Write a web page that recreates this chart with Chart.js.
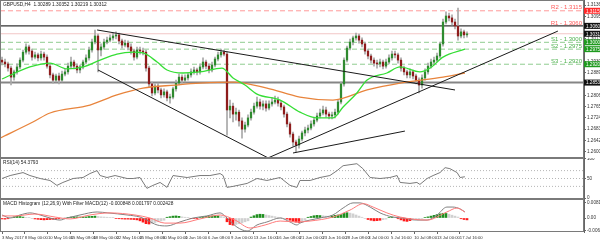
<!DOCTYPE html>
<html>
<head>
<meta charset="utf-8">
<script src="https://cdn.jsdelivr.net/npm/chart.js@4.4.0/dist/chart.umd.min.js"></script>
<style>
  html, body { margin: 0; padding: 0; background: #fff; }
  #wrap { position: relative; width: 600px; height: 241px; overflow: hidden; }
  canvas { position: absolute; left: 0; }
</style>
</head>
<body>
<div id="wrap">
  <canvas id="mainChart" width="600" height="158" style="top:0px"></canvas>
  <canvas id="rsiChart" width="600" height="41" style="top:158px"></canvas>
  <canvas id="macdChart" width="600" height="42" style="top:199px"></canvas>
</div>
<script>
// GBPUSD H4, one candle per index (about two H4 bars each)
const firstOpen = 1.2935;
const closes = [
  1.2928, 1.2921, 1.2906, 1.2873, 1.2892, 1.2910, 1.2935, 1.2964, 1.2983, 1.2968,
  1.2946, 1.2954, 1.2943, 1.2957, 1.2946, 1.2913, 1.2881, 1.2862, 1.2877, 1.2862,
  1.2884, 1.2892, 1.2913, 1.2928, 1.2913, 1.2899, 1.2910, 1.2928, 1.2943, 1.2972,
  1.3001, 1.3023, 1.2972, 1.2983, 1.3001, 1.3008, 1.3016, 1.3023, 1.3027, 1.3005,
  1.2990, 1.2997, 1.2983, 1.2968, 1.2946, 1.2972, 1.2968, 1.2964, 1.2906, 1.2848,
  1.2815, 1.2840, 1.2826, 1.2808, 1.2819, 1.2797, 1.2800, 1.2830, 1.2851, 1.2873,
  1.2862, 1.2870, 1.2881, 1.2892, 1.2899, 1.2892, 1.2910, 1.2928, 1.2913, 1.2899,
  1.2917, 1.2939, 1.2954, 1.2964, 1.2957, 1.2753, 1.2767, 1.2738, 1.2745, 1.2713,
  1.2683, 1.2698, 1.2724, 1.2745, 1.2767, 1.2782, 1.2767, 1.2775, 1.2760, 1.2775,
  1.2782, 1.2789, 1.2778, 1.2764, 1.2738, 1.2702, 1.2665, 1.2636, 1.2625, 1.2647,
  1.2669, 1.2680, 1.2687, 1.2702, 1.2716, 1.2731, 1.2742, 1.2753, 1.2738, 1.2731,
  1.2735, 1.2745, 1.2782, 1.2848, 1.2935, 1.2979, 1.3001, 1.3016, 1.3023, 1.3008,
  1.2994, 1.2968, 1.2950, 1.2935, 1.2924, 1.2921, 1.2928, 1.2913, 1.2928, 1.2943,
  1.2957, 1.2954, 1.2935, 1.2906, 1.2892, 1.2881, 1.2892, 1.2877, 1.2862, 1.2844,
  1.2870, 1.2892, 1.2913, 1.2928, 1.2935, 1.2950, 1.2994, 1.3074, 1.3096, 1.3089,
  1.3074, 1.3059, 1.3023, 1.3038, 1.3027, 1.3031
];
const highs = [
  1.2946, 1.2939, 1.2928, 1.2913, 1.2899, 1.2921, 1.2943, 1.2972, 1.2994, 1.2990,
  1.2975, 1.2964, 1.2961, 1.2968, 1.2964, 1.2954, 1.2921, 1.2888, 1.2884, 1.2888,
  1.2895, 1.2903, 1.2924, 1.2946, 1.2935, 1.2921, 1.2917, 1.2935, 1.2954, 1.2983,
  1.3012, 1.3045, 1.3030, 1.2994, 1.3012, 1.3019, 1.3027, 1.3034, 1.3038, 1.3034,
  1.3012, 1.3008, 1.3005, 1.2994, 1.2975, 1.2983, 1.2983, 1.2979, 1.2972, 1.2913,
  1.2855, 1.2848, 1.2851, 1.2833, 1.2830, 1.2826, 1.2811, 1.2837, 1.2862, 1.2884,
  1.2881, 1.2881, 1.2888, 1.2903, 1.2910, 1.2906, 1.2921, 1.2943, 1.2935, 1.2921,
  1.2928, 1.2946, 1.2964, 1.2975, 1.2972, 1.2964, 1.2789, 1.2778, 1.2760, 1.2753,
  1.2724, 1.2709, 1.2735, 1.2756, 1.2778, 1.2800, 1.2793, 1.2786, 1.2786, 1.2786,
  1.2797, 1.2804, 1.2800, 1.2786, 1.2771, 1.2745, 1.2709, 1.2672, 1.2643, 1.2658,
  1.2676, 1.2691, 1.2698, 1.2713, 1.2727, 1.2742, 1.2756, 1.2767, 1.2764, 1.2745,
  1.2745, 1.2756, 1.2789, 1.2855, 1.2943, 1.2986, 1.3012, 1.3023, 1.3034, 1.3030,
  1.3016, 1.3001, 1.2975, 1.2957, 1.2943, 1.2935, 1.2939, 1.2935, 1.2939, 1.2954,
  1.2968, 1.2968, 1.2961, 1.2943, 1.2913, 1.2899, 1.2903, 1.2899, 1.2884, 1.2870,
  1.2881, 1.2903, 1.2924, 1.2939, 1.2946, 1.2961, 1.3001, 1.3085, 1.3111, 1.3107,
  1.3100, 1.3085, 1.3125, 1.3049, 1.3045, 1.3038
];
const lows = [
  1.2917, 1.2910, 1.2895, 1.2844, 1.2862, 1.2884, 1.2903, 1.2928, 1.2957, 1.2957,
  1.2935, 1.2939, 1.2932, 1.2935, 1.2935, 1.2906, 1.2870, 1.2851, 1.2855, 1.2848,
  1.2855, 1.2877, 1.2884, 1.2906, 1.2903, 1.2888, 1.2888, 1.2903, 1.2921, 1.2935,
  1.2964, 1.2994, 1.2892, 1.2950, 1.2975, 1.2994, 1.3001, 1.3008, 1.3012, 1.2994,
  1.2979, 1.2983, 1.2972, 1.2957, 1.2935, 1.2939, 1.2957, 1.2954, 1.2895, 1.2837,
  1.2804, 1.2808, 1.2815, 1.2797, 1.2800, 1.2786, 1.2778, 1.2793, 1.2822, 1.2844,
  1.2851, 1.2855, 1.2862, 1.2873, 1.2884, 1.2881, 1.2884, 1.2903, 1.2903, 1.2888,
  1.2892, 1.2910, 1.2932, 1.2946, 1.2950, 1.2661, 1.2724, 1.2709, 1.2716, 1.2694,
  1.2650, 1.2672, 1.2691, 1.2716, 1.2738, 1.2760, 1.2756, 1.2753, 1.2749, 1.2753,
  1.2767, 1.2775, 1.2767, 1.2753, 1.2727, 1.2691, 1.2654, 1.2621, 1.2599, 1.2614,
  1.2640, 1.2658, 1.2669, 1.2680, 1.2694, 1.2709, 1.2724, 1.2735, 1.2727, 1.2720,
  1.2720, 1.2724, 1.2738, 1.2775, 1.2840, 1.2928, 1.2972, 1.2990, 1.3008, 1.2997,
  1.2983, 1.2957, 1.2939, 1.2924, 1.2913, 1.2906, 1.2910, 1.2903, 1.2906, 1.2921,
  1.2935, 1.2943, 1.2924, 1.2895, 1.2881, 1.2870, 1.2870, 1.2866, 1.2848, 1.2815,
  1.2833, 1.2862, 1.2884, 1.2906, 1.2917, 1.2928, 1.2943, 1.2986, 1.3067, 1.3078,
  1.3063, 1.3049, 1.3008, 1.3016, 1.3016, 1.3019
];

// moving averages, read at points along the curves (index, price)
const fastMaIdx = [0, 9.3, 16, 21.7, 27, 32.7, 38.3, 43.7, 47, 51.7, 55, 60.3, 66, 73.3, 77, 81, 85, 92.7, 99.3, 105, 110.3, 113.7, 118.3, 121.7, 128.3, 132.7, 139.3, 142.7, 147, 154.3];
const fastMaVal = [1.2866, 1.2910, 1.2924, 1.2903, 1.2910, 1.2935, 1.2957, 1.2964, 1.2961, 1.2928, 1.2899, 1.2888, 1.2892, 1.2906, 1.2870, 1.2844, 1.2811, 1.2789, 1.2745, 1.2724, 1.2724, 1.2764, 1.2815, 1.2862, 1.2888, 1.2910, 1.2892, 1.2906, 1.2946, 1.2975];
const slowMaIdx = [-0.7, 10.3, 16, 29.3, 38.3, 47, 57.7, 66, 77, 88.3, 99.3, 110.3, 121.7, 132.7, 147, 154.3];
const slowMaVal = [1.2650, 1.2709, 1.2742, 1.2771, 1.2808, 1.2833, 1.2844, 1.2851, 1.2855, 1.2833, 1.2800, 1.2789, 1.2826, 1.2851, 1.2873, 1.2888];

// trend lines: start and end (index, price)
const trendFromIdx = [31.7, 32, 88.7, 97];
const trendFromVal = [1.3045, 1.2899, 1.2578, 1.2596];
const trendToIdx = [151, 88.7, 185.3, 134.3];
const trendToVal = [1.2826, 1.2578, 1.3041, 1.2676];

// pivot levels
const levelNames = ['R2', 'R1', 'S1', 'S2', 'S3'];
const levelValues = [1.3115, 1.3060, 1.3000, 1.2975, 1.2920];
const currentPrice = 1.30312;
const supportLine = 1.2853;

const priceTicks = [1.3136, 1.3095, 1.3054, 1.3013, 1.2971, 1.2930, 1.2889, 1.2848, 1.2806, 1.2765, 1.2724, 1.2683, 1.2642, 1.2600];

// RSI(14)
const rsiIdx = [0, 2.7, 7, 9.3, 12.7, 16, 18.3, 20.3, 23.7, 27, 29.3, 31.7, 32.7, 35, 37.7, 41.7, 43.7, 46, 48.3, 50.3, 52.7, 55, 57, 61.7, 66, 69.3, 72.7, 73.7, 75, 77, 81.7, 85, 88.3, 92.7, 96, 98.3, 99.3, 102.7, 106, 109.3, 111.7, 113.7, 116, 118.3, 120.3, 122.7, 126, 129.3, 131.7, 132.7, 136, 138.3, 139.3, 141.7, 143.7, 146, 147.7, 149.3, 151.7, 152.7, 154.3];
const rsiVal = [50, 57.5, 65, 57.5, 50, 45, 32.5, 40, 50, 52.5, 62.5, 70, 57.5, 52.5, 57.5, 50, 50, 52.5, 25, 32.5, 40, 27.5, 57.5, 52.5, 57.5, 57.5, 62.5, 57.5, 27.5, 30, 37.5, 50, 45, 52.5, 32.5, 27.5, 45, 45, 52.5, 57.5, 70, 82.5, 85, 87.5, 75, 52.5, 50, 52.5, 57.5, 40, 37.5, 40, 35, 50, 57.5, 65, 77.5, 75, 65, 52.5, 54.4];
const rsiLevels = [70, 50, 30];
const rsiTicks = [100, 70, 50, 30, 0];

// MACD (12,26,9)
const macdIdx = [0, 2.7, 6, 9.3, 12.7, 16, 19.3, 21.7, 26, 31.7, 35.3, 41.7, 46, 48.3, 51.7, 55, 59.3, 63.7, 68.3, 72.7, 75, 78.3, 81.7, 85, 88.3, 92.7, 96, 98.3, 99.3, 106, 110.3, 113.7, 117, 119.3, 122.7, 126, 130.3, 133.7, 138.3, 141.7, 145, 148.3, 150.3, 152.7, 154.3];
const macdVal = [0.0016, 0, 0.0016, 0.0027, 0.0016, 0, -0.0011, 0, 0.0016, 0.0032, 0.0027, 0.0016, 0.0005, -0.0011, -0.0037, -0.0042, -0.0021, 0, 0.0011, 0.0027, 0, -0.0048, -0.0069, -0.0037, -0.0021, 0, -0.0021, -0.0037, -0.0027, 0, 0.0016, 0.0053, 0.0080, 0.0080, 0.0058, 0.0027, 0.0005, 0, -0.0011, -0.0011, 0.0016, 0.0058, 0.0058, 0.0048, 0.0032];
const signalIdx = [0, 4.3, 11, 17.7, 22.7, 29.3, 36, 44.3, 49.3, 54.3, 59.3, 66, 72.7, 77.7, 82.7, 87.7, 92.7, 98.3, 102.7, 110.3, 116, 120.5, 123.7, 128.3, 132.7, 141.7, 148.3, 151.7, 154.3];
const signalVal = [0.0011, 0.0011, 0.0021, 0.0005, -0.0005, 0.0016, 0.0027, 0.0016, 0, -0.0027, -0.0027, -0.0005, 0.0016, -0.0011, -0.0053, -0.0037, -0.0016, -0.0021, -0.0016, 0.0005, 0.0042, 0.0076, 0.0058, 0.0027, 0.0005, -0.0011, 0.0032, 0.0053, 0.0032];
const histVal = [
  -0.0005, -0.0006, -0.0004, 0.0002, 0.0006, 0.0009, 0.0008, 0.0005, 0.0003, 0.0002,
  -0.0002, -0.0005, -0.0007, -0.0009, -0.0010, -0.0009, -0.0008, -0.0007, -0.0006, -0.0004,
  -0.0002, 0.0001, 0.0003, 0.0005, 0.0006, 0.0006, 0.0005, 0.0004, 0.0006, 0.0008,
  0.0009, 0.0010, 0.0008, 0.0006, 0.0005, 0.0004, 0.0003, 0.0002, -0.0003, -0.0004,
  -0.0005, -0.0006, -0.0006, -0.0007, -0.0008, -0.0010, -0.0015, -0.0022, -0.0030, -0.0032,
  -0.0028, -0.0024, -0.0020, -0.0016, -0.0012, 0.0004, 0.0007, 0.0010, 0.0011, 0.0009,
  0.0006, 0.0004, 0.0002, -0.0002, -0.0003, -0.0002, 0.0003, 0.0006, 0.0008, 0.0010,
  0.0011, 0.0012, 0.0011, 0.0008, 0.0006, -0.0020, -0.0035, -0.0038, -0.0034, -0.0030,
  -0.0026, -0.0020, -0.0015, 0.0005, 0.0012, 0.0018, 0.0020, 0.0019, 0.0016, 0.0013,
  0.0010, 0.0007, 0.0004, 0.0002, -0.0002, -0.0006, -0.0012, -0.0018, -0.0022, -0.0024,
  -0.0018, -0.0012, 0.0004, 0.0008, 0.0012, 0.0014, 0.0013, 0.0012, 0.0010, 0.0009,
  0.0011, 0.0014, 0.0016, 0.0018, 0.0024, 0.0028, 0.0026, 0.0022, 0.0016, 0.0010,
  0.0004, -0.0002, -0.0008, -0.0012, -0.0015, -0.0014, -0.0012, -0.0009, -0.0006, 0.0003,
  0.0005, 0.0002, -0.0004, -0.0010, -0.0016, -0.0018, -0.0014, -0.0010, -0.0008, -0.0006,
  -0.0003, 0.0003, 0.0006, 0.0010, 0.0014, 0.0018, 0.0022, 0.0025, 0.0024, 0.0020,
  0.0015, 0.0010, 0.0005, -0.0004, -0.0008, -0.0010
];
// g = rising above, r = falling, s = filtered (grey)
const histState = 'rrr' + 's' + 'gggg' + 'sss' + 'rrrrrrrrr' + 'ss' + 'gggggggggg' + 'ssssss' +
  'rrrrrrrrrrrr' + 'sssss' + 'ggggg' + 'sss' + 'rrr' + 'ggggggg' + 'ss' + 'rrr' + 'sssss' +
  'ggggg' + 'sssssss' + 'rrrrr' + 'ss' + 'ggggg' + 'sss' + 'gggggg' + 'ssssss' + 'rrrrr' +
  'ss' + 'gg' + 's' + 'rrrrr' + 'ssss' + 'gggggggg' + 'ssss' + 'rrr';
const macdTicks = [0.008114, 0, -0.006647];

const xTickIdx = [0, 7.6, 15.3, 22.9, 30.5, 38.2, 45.8, 53.4, 61.1, 68.7, 76.3, 83.9, 91.6, 99.2, 106.8, 114.5, 122.1, 129.7, 137.4, 145.0, 152.6];
const xTickLabels = ['3 May 2017', '8 May 00:00', '10 May 16:00', '15 May 08:00', '18 May 00:00', '22 May 16:00', '25 May 08:00', '30 May 00:00', '1 Jun 16:00', '6 Jun 08:00', '9 Jun 00:00', '13 Jun 16:00', '16 Jun 08:00', '21 Jun 00:00', '23 Jun 16:00', '28 Jun 08:00', '3 Jul 00:00', '5 Jul 16:00', '10 Jul 08:00', '13 Jul 00:00', '17 Jul 16:00'];

const X_MIN = -0.67, X_MAX = 194;
const FONT = 'Liberation Sans';

function pairs(xs, ys) {
  return xs.map((x, i) => ({ x: x, y: ys[i] }));
}

function flatLine(v, color, width, dash) {
  return {
    type: 'line', data: [{ x: X_MIN, y: v }, { x: X_MAX, y: v }],
    borderColor: color, borderWidth: width, borderDash: dash || [],
    pointRadius: 0, order: 4
  };
}

function xAxis(show) {
  return {
    type: 'linear', min: X_MIN, max: X_MAX, display: show, offset: false,
    grid: { display: show, drawOnChartArea: false, drawTicks: true, tickLength: 2, color: '#666', offset: false },
    border: { display: false }
  };
}

function yAxis(min, max, ticks, fmt) {
  return {
    position: 'right', min: min, max: max,
    grid: { drawOnChartArea: false, drawTicks: true, tickLength: 2, color: '#666' },
    border: { display: true, color: '#666' },
    ticks: { font: { family: FONT, size: 4.6 }, color: '#333', padding: 1, callback: fmt },
    afterBuildTicks: s => { s.ticks = ticks.map(v => ({ value: v })); },
    afterFit: s => { s.width = 16; s.paddingTop = 0; s.paddingBottom = 0; }
  };
}

// frame and title of each panel
const panelDecor = {
  id: 'panelDecor',
  afterDraw(chart, args, opts) {
    const { ctx, chartArea: a } = chart;
    ctx.save();
    ctx.strokeStyle = '#7a7a7a';
    ctx.lineWidth = 1;
    ctx.strokeRect(a.left + 0.5, a.top + 0.5, a.right - a.left - 1, a.bottom - a.top - 1);
    ctx.font = '4.8px "' + FONT + '"';
    ctx.fillStyle = '#222';
    ctx.textBaseline = 'top';
    ctx.textAlign = 'left';
    ctx.fillText(opts.title, a.left + 3, a.top + 2);
    ctx.restore();
  }
};

// pivot labels and coloured price boxes on the axis
const levelMarks = {
  id: 'levelMarks',
  afterDraw(chart) {
    const { ctx, chartArea: a, scales: { y } } = chart;
    ctx.save();
    ctx.font = '6px "' + FONT + '"';
    ctx.textAlign = 'right';
    ctx.textBaseline = 'bottom';
    levelNames.forEach((name, i) => {
      ctx.fillStyle = name[0] === 'R' ? '#ff5a5a' : '#4cb04c';
      ctx.fillText(name + ' - ' + levelValues[i].toFixed(4), a.right - 2, y.getPixelForValue(levelValues[i]));
    });
    const boxes = [
      [levelValues[0], '#ff2a2a'], [levelValues[1], '#111'], [currentPrice, '#111'],
      [levelValues[2], '#1f9a1f'], [levelValues[3], '#1f9a1f'], [levelValues[4], '#1f9a1f'],
      [supportLine, '#111']
    ];
    ctx.font = '4.6px "' + FONT + '"';
    ctx.textAlign = 'left';
    ctx.textBaseline = 'middle';
    boxes.forEach(([v, c]) => {
      const py = y.getPixelForValue(v);
      ctx.fillStyle = c;
      ctx.fillRect(a.right, py - 3, 16, 6);
      ctx.fillStyle = '#fff';
      ctx.fillText(v.toFixed(5), a.right + 2, py + 0.5);
    });
    ctx.restore();
  }
};

const opens = closes.map((c, i) => (i ? closes[i - 1] : firstOpen));
const idx = closes.map((c, i) => i);

const trendSets = trendFromIdx.map((x0, i) => ({
  type: 'line',
  data: [{ x: x0, y: trendFromVal[i] }, { x: trendToIdx[i], y: trendToVal[i] }],
  borderColor: '#1a1a1a', borderWidth: 1, pointRadius: 0, order: 0
}));

const common = {
  responsive: false, animation: false, events: [],
  layout: { padding: 0 },
  plugins: { legend: { display: false }, tooltip: { enabled: false } }
};

new Chart(document.getElementById('mainChart'), {
  type: 'bar',
  data: {
    datasets: [
      {
        data: idx.map(i => ({ x: i, y: [lows[i], highs[i]] })),
        backgroundColor: '#a8a8a8', barThickness: 1, grouped: false, order: 3
      },
      {
        data: idx.map(i => ({ x: i, y: [opens[i], closes[i]] })),
        backgroundColor: idx.map(i => (closes[i] >= opens[i] ? '#2f8a2f' : '#8e1c1c')),
        barThickness: 1.6, minBarLength: 1, grouped: false, order: 2
      },
      {
        type: 'line', data: pairs(fastMaIdx, fastMaVal), borderColor: '#35de35',
        borderWidth: 1.3, pointRadius: 0, cubicInterpolationMode: 'monotone', order: 1
      },
      {
        type: 'line', data: pairs(slowMaIdx, slowMaVal), borderColor: '#e8843c',
        borderWidth: 1.3, pointRadius: 0, cubicInterpolationMode: 'monotone', order: 1
      },
      flatLine(levelValues[0], '#ff9a9a', 1, [5, 3]),
      flatLine(levelValues[1], '#333', 1.2),
      flatLine(currentPrice, '#f2c6c6', 1),
      flatLine(levelValues[2], '#8fcc8f', 1, [5, 3]),
      flatLine(levelValues[3], '#8fcc8f', 1, [5, 3]),
      flatLine(levelValues[4], '#8fcc8f', 1, [5, 3]),
      flatLine(supportLine, '#858585', 2),
      ...trendSets
    ]
  },
  options: Object.assign({}, common, {
    scales: {
      x: xAxis(false),
      y: yAxis(1.25777, 1.31544, priceTicks, v => v.toFixed(5))
    },
    plugins: Object.assign({}, common.plugins, {
      panelDecor: { title: 'GBPUSD,H4  1.30289 1.30352 1.30219 1.30312' }
    })
  }),
  plugins: [panelDecor, levelMarks]
});

new Chart(document.getElementById('rsiChart'), {
  type: 'line',
  data: {
    datasets: [
      { data: pairs(rsiIdx, rsiVal), borderColor: '#7a7a7a', borderWidth: 1, pointRadius: 0, order: 0 },
      ...rsiLevels.map(v => flatLine(v, '#b5b5b5', 1, [1, 2]))
    ]
  },
  options: Object.assign({}, common, {
    scales: {
      x: xAxis(false),
      y: yAxis(-2, 102, rsiTicks, v => String(v))
    },
    plugins: Object.assign({}, common.plugins, {
      panelDecor: { title: 'RSI(14) 54.3793' }
    })
  }),
  plugins: [panelDecor]
});

const histColor = { g: '#1f8f1f', r: '#ff1a1a', s: '#d0d0d0' };

new Chart(document.getElementById('macdChart'), {
  type: 'bar',
  data: {
    datasets: [
      {
        data: idx.map(i => ({ x: i, y: histVal[i] })),
        backgroundColor: idx.map(i => histColor[histState[i]]),
        barThickness: 2, grouped: false, order: 2
      },
      {
        type: 'line', data: pairs(macdIdx, macdVal), borderColor: '#808080',
        borderWidth: 1, pointRadius: 0, cubicInterpolationMode: 'monotone', order: 1
      },
      {
        type: 'line', data: pairs(signalIdx, signalVal), borderColor: '#ff7a7a',
        borderWidth: 1, pointRadius: 0, cubicInterpolationMode: 'monotone', order: 0
      }
    ]
  },
  options: Object.assign({}, common, {
    scales: {
      x: Object.assign(xAxis(true), {
        ticks: {
          font: { family: FONT, size: 4.2 }, color: '#333', padding: 1,
          align: 'start', maxRotation: 0, autoSkip: false,
          callback: (v, i) => xTickLabels[i]
        },
        afterBuildTicks: s => { s.ticks = xTickIdx.map(v => ({ value: v })); },
        afterFit: s => { s.height = 9; s.paddingLeft = 0; s.paddingRight = 0; }
      }),
      y: yAxis(-0.00742, 0.01007, macdTicks, v => (v === 0 ? '0.00' : v.toFixed(6)))
    },
    plugins: Object.assign({}, common.plugins, {
      panelDecor: { title: 'MACD Histogram (12,26,9) With Filter MACD(12) -0.000848 0.001797 0.002428' }
    })
  }),
  plugins: [panelDecor]
});
</script>
</body>
</html>
